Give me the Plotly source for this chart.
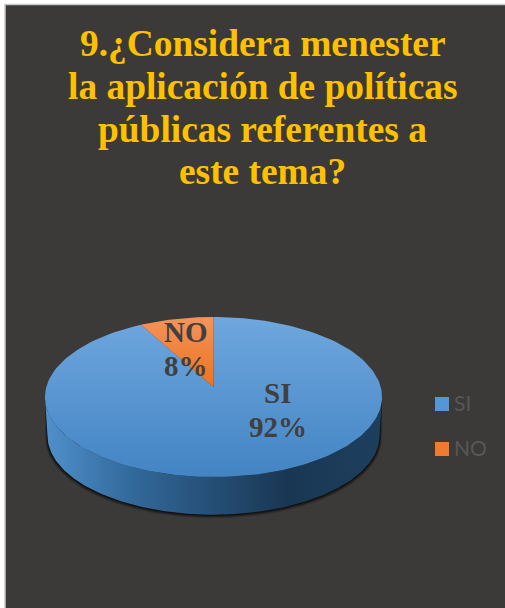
import numpy as np
import plotly.graph_objects as go

categories = ["SI", "NO"]
values = [92, 8]
title_lines = ["9.¿Considera menester", "la aplicación de políticas", "públicas referentes a", "este tema?"]

W, H = 505, 608
BG = "#3b3a39"
CX, VY, A, B, K = 213.5, 387.0, 167.2, 78.75, 0.125
DEPTH = 39.0
SER = "Liberation Serif"


def project(theta, dy=0.0, scale=1.0):
    u, v = np.sin(theta), np.cos(theta)
    d = 1 + K * v
    return CX + scale * A * u / d, VY + dy - scale * B * v / d


def wedge(start, end):
    t = np.linspace(start, end, 200)
    x, y = project(t)
    return np.r_[CX, x, CX], np.r_[VY, y, VY]


fig = go.Figure()

# side wall: front arc of the top face and of the bottom face
t0 = np.arccos(-K)
t_front = np.linspace(t0, 2 * np.pi - t0, 240)
xt, yt = project(t_front)
xb, yb = project(t_front, DEPTH, 0.985)

# soft shadow under the rim
for grow, op in [(2.4, 0.18), (1.6, 0.3), (0.8, 0.45)]:
    xs, ys = project(t_front, DEPTH + grow, 0.985 + grow / 168)
    fig.add_trace(go.Scatter(x=np.r_[xt, xs[::-1]], y=np.r_[yt, ys[::-1]], mode="lines",
                             fill="toself", fillcolor=f"rgba(0,0,0,{op})",
                             line=dict(width=0), hoverinfo="skip", showlegend=False))

fig.add_trace(go.Scatter(
    x=np.r_[xt, xb[::-1]], y=np.r_[yt, yb[::-1]], mode="lines", fill="toself",
    fillgradient=dict(type="horizontal", start=47, stop=380,
                      colorscale=[[0, "#4f8fca"], [0.25, "#326a9c"], [0.5, "#254e75"],
                                  [0.72, "#193753"], [1, "#1d3f5e"]]),
    line=dict(width=0), hoverinfo="skip", showlegend=False))

# top face slices, built from the values
cum = np.cumsum([0] + values) / sum(values) * 2 * np.pi
grads = {
    "SI": [[0, "#6fa7de"], [1, "#4384c4"]],
    "NO": [[0, "#f4935a"], [1, "#ec741f"]],
}
for i, c in enumerate(categories):
    x, y = wedge(cum[i], cum[i + 1])
    fig.add_trace(go.Scatter(
        x=x, y=y, mode="lines", fill="toself", name=c,
        fillgradient=dict(type="vertical", start=317, stop=477 if c == "SI" else 387,
                          colorscale=grads[c]),
        line=dict(width=0), hoverinfo="skip", showlegend=False))

annotations = []

# legend keys
legend_y = {"SI": 404, "NO": 449}
for c, col in zip(categories, ["#5597d6", "#ee7b30"]):
    fig.add_trace(go.Scatter(x=[442], y=[legend_y[c]], mode="markers", name=c,
                             hoverinfo="skip", showlegend=False,
                             marker=dict(symbol="square", size=14, color=col)))
    annotations.append(dict(x=451.5, y=legend_y[c] - 1.5, xref="x", yref="y", text=c, showarrow=False,
                            xanchor="left", font=dict(family="Lato", size=21, color="#575757")))

# data labels, one line each
label_pos = {"SI": (277.5, 393, 427), "NO": (186, 332, 366)}
for c, v in zip(categories, values):
    lx, y1, y2 = label_pos[c]
    for txt, ly in [(c, y1), (f"{v}%", y2)]:
        annotations.append(dict(x=lx, y=ly, xref="x", yref="y", text=f"<b>{txt}</b>", showarrow=False,
                                font=dict(family=SER, size=29, color="#404040")))
# title, one line each
for line, ly in zip(title_lines, [43.5, 86.5, 129.5, 171.5]):
    annotations.append(dict(x=262.5, y=ly, xref="x", yref="y", text=f"<b>{line}</b>", showarrow=False,
                            font=dict(family=SER, size=37.4, color="#ffc000")))

fig.update_layout(
    width=W, height=H, autosize=False,
    margin=dict(l=0, r=0, t=0, b=0),
    paper_bgcolor="white", plot_bgcolor="white",
    xaxis=dict(range=[0, W], visible=False, fixedrange=True),
    yaxis=dict(range=[H, 0], visible=False, fixedrange=True),
    annotations=annotations,
    shapes=[dict(type="rect", layer="below", xref="x", yref="y", x0=5, y0=4.5, x1=W + 5, y1=H + 5,
                 fillcolor=BG, line=dict(color="#c9c9c9", width=1.5))],
)
fig.write_html("out.html", config={"displayModeBar": False},
               post_script="document.body.style.margin='0';")
